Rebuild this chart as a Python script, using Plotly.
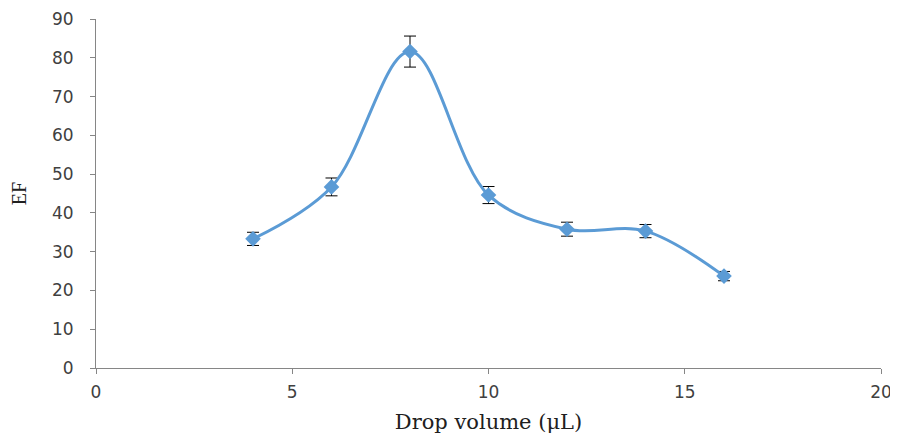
import plotly.graph_objects as go

drop_volume = [4, 6, 8, 10, 12, 14, 16]
ef = [33.3, 46.7, 81.6, 44.6, 35.8, 35.3, 23.7]
ef_err = [1.7, 2.3, 4.0, 2.2, 1.8, 1.7, 1.2]
x_ticks = [0, 5, 10, 15, 20]
y_ticks = [0, 10, 20, 30, 40, 50, 60, 70, 80, 90]

fig = go.Figure()
fig.add_trace(go.Scatter(
    x=drop_volume, y=ef,
    mode="lines+markers",
    line=dict(color="#5B9BD5", width=3, shape="spline", smoothing=1.0),
    marker=dict(symbol="diamond", size=12, color="#5B9BD5"),
    error_y=dict(type="data", array=ef_err, visible=True, color="black", thickness=1, width=6),
    showlegend=False,
))

axis_font = dict(family="DejaVu Sans", size=17, color="#404040")
fig.update_layout(
    width=890, height=426,
    margin=dict(l=88, r=17, t=11, b=66),
    paper_bgcolor="white", plot_bgcolor="white",
    xaxis=dict(
        range=[0, 20], tickvals=x_ticks, showgrid=False, zeroline=False,
        showline=True, linecolor="#868686", linewidth=1,
        ticks="outside", ticklen=5, tickcolor="#868686",
        tickfont=axis_font, ticklabelstandoff=4, automargin=False,
        title=dict(text="Drop volume (μL)", font=dict(family="DejaVu Serif", size=21, color="#202020"), standoff=14),
    ),
    yaxis=dict(
        range=[0, 90], tickvals=y_ticks, showgrid=False, zeroline=False,
        showline=True, linecolor="#868686", linewidth=1,
        ticks="outside", ticklen=5, tickcolor="#868686",
        tickfont=axis_font, ticklabelstandoff=13, automargin=False,
        title=dict(text="EF", font=dict(family="Liberation Serif", size=20, color="#202020"), standoff=24),
    ),
)
fig.write_html("out.html")
